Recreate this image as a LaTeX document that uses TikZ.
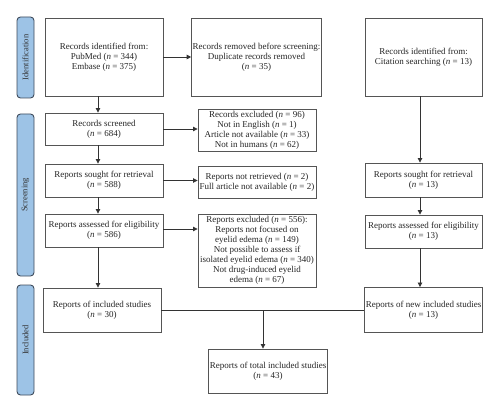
\documentclass[tikz,border=0pt]{standalone}
\usepackage{fontspec}
\setmainfont{Liberation Serif}
\usetikzlibrary{arrows.meta}
\newcommand{\Nv}{\textit{n}}
\definecolor{phasefill}{HTML}{9DC3E6}
\definecolor{phaseedge}{HTML}{3F4B5B}
\definecolor{boxedge}{HTML}{555555}
\definecolor{lineclr}{HTML}{333333}
\tikzset{
  box/.style={draw=boxedge, line width=0.9pt, fill=white, align=center, inner sep=1pt,
    font=\fontsize{9}{10}\selectfont, text=black!85},
  phase/.style={draw=phaseedge, line width=0.9pt, fill=phasefill, rounded corners=3.5pt,
    rotate=90, font=\fontsize{8.5}{9}\selectfont, text=black!80, inner sep=0pt},
  arr/.style={draw=lineclr, line width=0.8pt, -{Triangle[width=4.5pt,length=4.5pt]}},
  ln/.style={draw=lineclr, line width=0.8pt}
}
\begin{document}
\begin{tikzpicture}[x=1pt,y=-1pt]
\useasboundingbox (0,0) rectangle (500,414);
% phases
\node[phase, minimum width=81pt, minimum height=17pt] (ph1) at (25.5,57.5) {Identification};
\node[phase, minimum width=162pt, minimum height=17pt] (ph2) at (25.5,195) {Screening};
\node[phase, minimum width=110pt, minimum height=17pt] (ph3) at (25.5,340) {Included};
% boxes
\node[box, minimum width=118pt, minimum height=78pt] (idrec) at (104,57) {Records identified from:\\PubMed (\Nv{} = 344)\\Embase (\Nv{} = 375)};
\node[box, minimum width=117pt, minimum height=78pt] (removed) at (256.5,57) {Records removed before screening:\\Duplicate records removed\\(\Nv{} = 35)};
\node[box, minimum width=117pt, minimum height=78pt] (cit) at (423.5,57) {Records identified from:\\Citation searching (\Nv{} = 13)};
\node[box, minimum width=118pt, minimum height=32pt] (screened) at (104,129) {Records screened\\(\Nv{} = 684)};
\node[box, minimum width=118pt, minimum height=42pt] (recexcl) at (257,130) {Records excluded (\Nv{} = 96)\\Not in English (\Nv{} = 1)\\Article not available (\Nv{} = 33)\\Not in humans (\Nv{} = 62)};
\node[box, minimum width=118pt, minimum height=33pt] (sought) at (104,180.5) {Reports sought for retrieval\\(\Nv{} = 588)};
\node[box, minimum width=118pt, minimum height=32pt] (notret) at (257,182) {Reports not retrieved (\Nv{} = 2)\\Full article not available (\Nv{} = 2)};
\node[box, minimum width=117pt, minimum height=34pt] (soughtR) at (423.5,180) {Reports sought for retrieval\\(\Nv{} = 13)};
\node[box, minimum width=118pt, minimum height=33pt] (assessed) at (104,230.5) {Reports assessed for eligibility\\(\Nv{} = 586)};
\node[box, minimum width=118pt, minimum height=73pt] (repexcl) at (257,250.5) {Reports excluded (\Nv{} = 556):\\Reports not focused on\\eyelid edema (\Nv{} = 149)\\Not possible to assess if\\isolated eyelid edema (\Nv{} = 340)\\Not drug-induced eyelid\\edema (\Nv{} = 67)};
\node[box, minimum width=117pt, minimum height=33pt] (assessedR) at (423.5,231.5) {Reports assessed for eligibility\\(\Nv{} = 13)};
\node[box, minimum width=118pt, minimum height=44pt] (incl) at (102,310) {Reports of included studies\\(\Nv{} = 30)};
\node[box, minimum width=117pt, minimum height=45pt] (newincl) at (423.5,310) {Reports of new included studies\\(\Nv{} = 13)};
\node[box, minimum width=118pt, minimum height=44pt] (total) at (268,371) {Reports of total included studies\\(\Nv{} = 43)};
% column coordinates
\coordinate (colL) at (98,0);
\coordinate (colR) at (420,0);
\coordinate (colM) at (263,0);
% vertical arrows
\draw[arr] (idrec.south -| colL) -- (screened.north -| colL);
\draw[arr] (screened.south -| colL) -- (sought.north -| colL);
\draw[arr] (sought.south -| colL) -- (assessed.north -| colL);
\draw[arr] (assessed.south -| colL) -- (incl.north -| colL);
\draw[arr] (cit.south -| colR) -- (soughtR.north -| colR);
\draw[arr] (soughtR.south -| colR) -- (assessedR.north -| colR);
\draw[arr] (assessedR.south -| colR) -- (newincl.north -| colR);
% horizontal arrows
\draw[arr] (idrec.east) -- (idrec.east -| removed.west);
\draw[arr] (screened.east) -- (screened.east -| recexcl.west);
\draw[arr] (sought.east) -- (sought.east -| notret.west);
\draw[arr] ([yshift=1.5pt]assessed.east) -- ([yshift=1.5pt]assessed.east -| repexcl.west);
% merge
\draw[ln] (incl.east) -- (newincl.west);
\draw[arr] (incl.east -| colM) -- (total.north -| colM);
\end{tikzpicture}
\end{document}
